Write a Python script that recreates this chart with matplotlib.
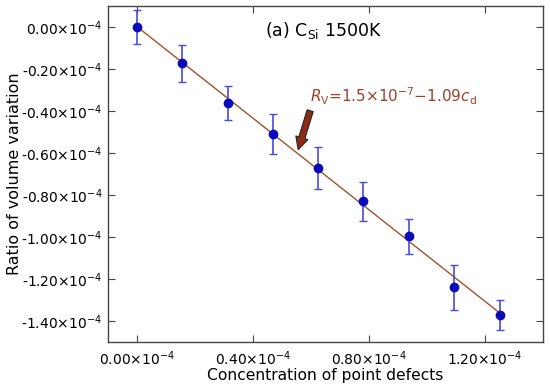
import numpy as np
import matplotlib
matplotlib.use("Agg")
import matplotlib.pyplot as plt
from matplotlib.ticker import FuncFormatter

# data, units of 1e-4
conc = [0.0, 0.156, 0.3125, 0.469, 0.625, 0.781, 0.9375, 1.094, 1.25]
ratio = [0.0, -0.173, -0.363, -0.51, -0.673, -0.83, -0.997, -1.24, -1.37]
err = [0.08, 0.089, 0.081, 0.094, 0.10, 0.093, 0.085, 0.108, 0.072]
fit_a = 1.5e-7
fit_b = -1.09
xticks = [0.0, 0.4, 0.8, 1.2]
yticks = [0.0, -0.2, -0.4, -0.6, -0.8, -1.0, -1.2, -1.4]

x = np.array(conc) * 1e-4
y = np.array(ratio) * 1e-4
e = np.array(err) * 1e-4

fig = plt.figure(figsize=(5.5, 3.88), dpi=100)
ax = fig.add_axes([108/550, 1 - 342/388, (543-108)/550, (342-6)/388])

xf = np.array([x[0], x[-1]])
ax.plot(xf, fit_a + fit_b * xf, color='#a0522d', lw=1.0, zorder=2)
ax.errorbar(x, y, yerr=e, fmt='none', ecolor='#4a4ae0', elinewidth=1.2,
            capsize=3, capthick=1.0, zorder=3)
ax.plot(x, y, 'o', color='#0a0ab8', ms=6, zorder=4)

ax.set_xlim(-0.1e-4, 1.4e-4)
ax.set_ylim(-1.5e-4, 0.1e-4)
ax.set_xticks(np.array(xticks) * 1e-4)
ax.set_yticks(np.array(yticks) * 1e-4)

def fmt(v, pos):
    return '%.2f×10$^{-4}$' % (v * 1e4 + 0.0)

ax.xaxis.set_major_formatter(FuncFormatter(fmt))
ax.yaxis.set_major_formatter(FuncFormatter(fmt))
ax.tick_params(direction='in', top=True, right=True, length=5, width=0.8,
               labelsize=10, color='#444444', pad=5)
ax.tick_params(axis='y', pad=4)
for s in ax.spines.values():
    s.set_color('#444444')
    s.set_linewidth(1.0)

ax.set_xlabel('Concentration of point defects', fontsize=11.2, labelpad=0)
ax.set_ylabel('Ratio of volume variation', fontsize=11.5)
ax.yaxis.set_label_coords(-0.197, 0.5)

ax.text(0.645e-4, -0.019e-4, '(a) C$_{\\mathrm{Si}}$ 1500K', fontsize=12.5,
        ha='center', va='center')
ax.text(0.886e-4, -0.329e-4,
        '$R_{\\mathrm{V}}$=1.5×10$^{-7}$−1.09$c_{\\mathrm{d}}$',
        fontsize=11, color='#a0402a', ha='center', va='center')
ax.annotate('', xy=(0.553e-4, -0.597e-4), xytext=(0.6e-4, -0.386e-4),
            arrowprops=dict(arrowstyle='simple,head_width=0.9,head_length=0.9,tail_width=0.45',
                            fc='#8e2a14', ec='#222222', lw=0.8))

fig.savefig('out.png', dpi=100)
